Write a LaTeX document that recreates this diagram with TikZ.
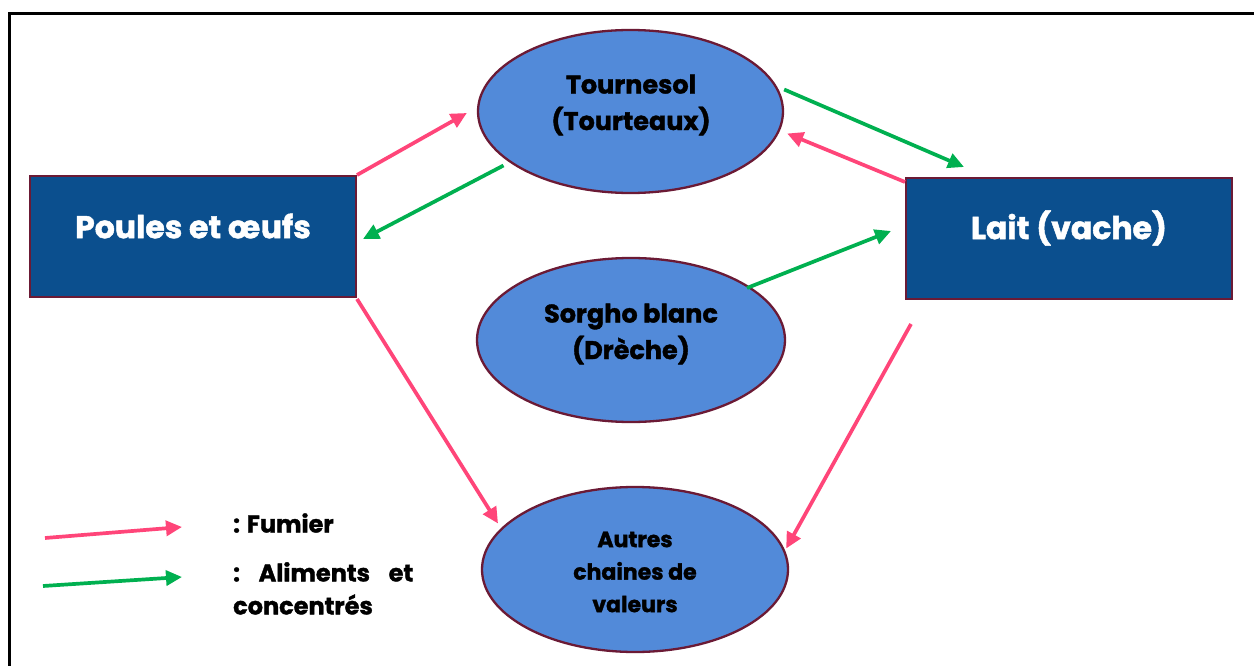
\documentclass[tikz,border=0pt]{standalone}
\usepackage{fontspec}
\setmainfont{Poppins}[BoldFeatures={FakeBold=1.5}]
\usetikzlibrary{arrows.meta,calc,shapes.geometric}
\definecolor{ellfill}{HTML}{528AD9}
\definecolor{boxfill}{HTML}{0B4F8E}
\definecolor{edge}{HTML}{6B1A35}
\definecolor{fumier}{HTML}{FF4579}
\definecolor{aliment}{HTML}{00B050}
\tikzset{
  boxnode/.style={draw=edge,line width=2pt,fill=boxfill,minimum width=326pt,minimum height=121pt,inner sep=0pt},
  ellnode/.style={ellipse,draw=edge,line width=2.3pt,fill=ellfill,inner sep=0pt},
  boxtext/.style={text=white,font=\bfseries\fontsize{31.5}{36}\selectfont,inner sep=0pt},
  elltext/.style={text=black,font=\bfseries\fontsize{25.5}{36.5}\selectfont,align=center,inner sep=0pt},
  legtext/.style={text=black,font=\bfseries\fontsize{24}{33}\selectfont,align=left,inner sep=0pt,anchor=west},
  fum/.style={draw=fumier,line width=3.7pt,-{Triangle[length=16pt,width=15pt]}},
  ali/.style={draw=aliment,line width=3.7pt,-{Triangle[length=16pt,width=15pt]}}
}
\begin{document}
\begin{tikzpicture}[x=1pt,y=-1pt]
\useasboundingbox (0,0) rectangle (1254,666);
\fill[white] (0,0) rectangle (1254,666);
\draw[line width=3pt,black] (9,700) -- (9,13.5) -- (1300,13.5);

\node[boxnode] (poules) at (193,236.5) {};
\node[boxtext] (poulest) at (193,226) {Poules et œufs};
\node[boxnode] (lait) at (1069,238.5) {};
\node[boxtext] (laitt) at (1069,228) {Lait (vache)};

\node[ellnode,minimum width=305pt,minimum height=163pt] (tour) at (630.5,111.5) {};
\node[elltext] (tourt) at (631,105) {Tournesol\\(Tourteaux)};
\node[ellnode,minimum width=308pt,minimum height=164pt] (sorgho) at (631,340) {};
\node[elltext] (sorghot) at (631,334) {Sorgho blanc\\(Drèche)};
\node[ellnode,minimum width=306pt,minimum height=165pt] (autres) at (635,569.5) {};
\node[elltext,font=\bfseries\fontsize{22}{32.5}\selectfont] (autrest) at (635,572) {Autres\\chaines de\\valeurs};

% connectors
\draw[fum] (poules.north east) -- ($(tour.west)+(-10,1.5)$);
\draw[ali] ($(tour.center)+(-127,54)$) -- ($(poules.east)+(6,2.5)$);
\draw[ali] ($(tour.east)+(0,-22)$) -- ($(lait.north west)+(59,-10)$);
\draw[fum] ($(lait.north west)+(0,5)$) -- ($(tour.east)+(3,22)$);
\draw[ali] ($(sorgho.center)+(116,-52)$) -- ($(lait.west)+(-14,-7.5)$);
\draw[fum] ($(poules.south east)+(0,1)$) -- ($(autres.center)+(-137,-46)$);
\draw[fum] ($(lait.south west)+(6,24)$) -- ($(autres.east)+(-3,-21)$);

% legend
\coordinate (lf1) at (45,538);
\coordinate (lf2) at (182,527);
\coordinate (la1) at (43,586);
\coordinate (la2) at (182,577);
\draw[fum] (lf1) -- (lf2);
\draw[ali] (la1) -- (la2);
\node[legtext] (legf) at (233,523) {: Fumier};
\node[legtext,anchor=north west] (lega) at (233,562) {\makebox[180pt][l]{:\hfill Aliments\hfill et}\\concentrés};
\end{tikzpicture}
\end{document}
